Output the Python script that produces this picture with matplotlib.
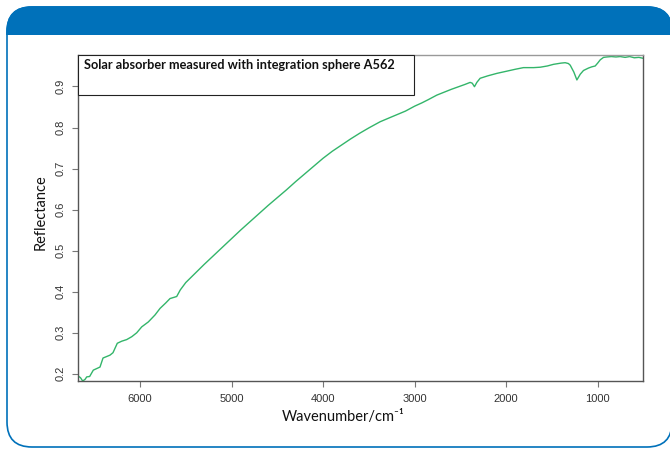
import matplotlib
matplotlib.use("Agg")
import matplotlib.pyplot as plt
from matplotlib.patches import FancyBboxPatch, Rectangle

# ---- data ----
wavenumber = [6674, 6650, 6626, 6600, 6582, 6550, 6510, 6437, 6404, 6328, 6295, 6248,
              6200, 6145, 6090, 6036, 5981, 5909, 5836, 5781, 5720, 5672, 5599, 5560,
              5500, 5400, 5300, 5200, 5100, 5000, 4900, 4800, 4700, 4600, 4500, 4400,
              4300, 4200, 4100, 4000, 3900, 3800, 3700, 3600, 3500, 3377, 3250, 3100,
              3000, 2921, 2850, 2757, 2600, 2450, 2393, 2370, 2346, 2320, 2284, 2200,
              2101, 2000, 1900, 1811, 1700, 1628, 1550, 1483, 1400, 1355, 1320, 1300,
              1260, 1227, 1190, 1155, 1100, 1063, 1027, 1000, 972, 936, 900, 850, 800,
              754, 700, 650, 600, 550, 508]
reflectance = [0.194, 0.190, 0.182, 0.186, 0.192, 0.193, 0.2085, 0.216, 0.238, 0.245, 0.251, 0.274,
               0.279, 0.283, 0.290, 0.2995, 0.314, 0.326, 0.343, 0.359, 0.372, 0.383, 0.388, 0.404,
               0.422, 0.444, 0.466, 0.487, 0.508, 0.529, 0.550, 0.570, 0.590, 0.610, 0.629, 0.648,
               0.668, 0.687, 0.706, 0.725, 0.742, 0.757, 0.772, 0.786, 0.799, 0.814, 0.826, 0.840,
               0.852, 0.860, 0.868, 0.879, 0.893, 0.905, 0.910, 0.908, 0.8995, 0.910, 0.920, 0.926,
               0.932, 0.937, 0.942, 0.946, 0.946, 0.947, 0.950, 0.954, 0.957, 0.958, 0.956, 0.952,
               0.935, 0.916, 0.930, 0.939, 0.945, 0.948, 0.950, 0.957, 0.965, 0.971, 0.972, 0.973, 0.972,
               0.973, 0.971, 0.973, 0.970, 0.971, 0.969]
xticks = [6000, 5000, 4000, 3000, 2000, 1000]
yticks = [0.2, 0.3, 0.4, 0.5, 0.6, 0.7, 0.8, 0.9]
legend_text = "Solar absorber measured with integration sphere A562"

W, H = 670, 449
fig = plt.figure(figsize=(W / 100, H / 100), dpi=100)
fig.patch.set_facecolor("white")

# ---- background panel ----
bg = fig.add_axes([0, 0, 1, 1], zorder=-1)
bg.set_xlim(0, W)
bg.set_ylim(H, 0)
bg.axis("off")
blue = "#0071BA"
panel = FancyBboxPatch((7, 7), 670 - 7 + 2, 447 - 7, boxstyle="round,pad=0,rounding_size=25",
                       facecolor="white", edgecolor=blue, linewidth=1.2)
bg.add_patch(panel)
header = FancyBboxPatch((7, 7), 670 - 7 + 2, 447 - 7, boxstyle="round,pad=0,rounding_size=25",
                        facecolor=blue, edgecolor=blue, linewidth=1.2)
bg.add_patch(header)
clip = Rectangle((0, 0), W, 35, transform=bg.transData)
header.set_clip_path(clip)

# ---- main axes ----
aw = 642.7 - 78.3
ah = 381 - 54.5
ax = fig.add_axes([78.3 / W, 1 - 381 / H, aw / W, ah / H])
ax.plot(wavenumber, reflectance, color="#33b56a", linewidth=1.0)
ax.set_xlim(6674, 508)
ax.set_ylim(0.182, 0.978)
ax.set_xticks(xticks)
ax.set_yticks(yticks)
ax.set_xticklabels([str(t) for t in xticks], fontsize=8, color="#333333", family="Liberation Sans")
ax.set_yticklabels([str(t) for t in yticks], fontsize=8, color="#333333", family="Liberation Sans",
                   rotation=90, va="center")
ax.tick_params(axis="both", direction="out", length=4, width=0.8, color="#777777", pad=5)
for s in ax.spines.values():
    s.set_color("#555555")
    s.set_linewidth(1.0)
ax.spines["top"].set_color("#999999")

ax.set_ylabel("Reflectance", fontsize=10.5, family="Lato", color="#111111")
ax.yaxis.set_label_coords(-(78.3 - 48) / aw, (381 - 212) / ah)
ax.set_xlabel("Wavenumber/cm\u207b\u00b9", fontsize=10.5, family=["Lato", "DejaVu Sans"],
              color="#111111")
ax.xaxis.set_label_coords((343 - 78.3) / aw, -(410 - 381) / ah)

# legend box
lx1 = (414 - 78.3) / aw
ly0 = (381 - 95) / ah
ax.add_patch(Rectangle((0, ly0), lx1, 1 - ly0, transform=ax.transAxes, facecolor="white",
                       edgecolor="#222222", linewidth=0.8, zorder=3, clip_on=False))
ax.text((84 - 78.3) / aw, (381 - 69) / ah, legend_text,
        transform=ax.transAxes, fontsize=9.2, fontweight="bold", family="Lato",
        va="baseline", ha="left", zorder=4, color="#111111")

fig.savefig("out.png", dpi=100, facecolor="white")
